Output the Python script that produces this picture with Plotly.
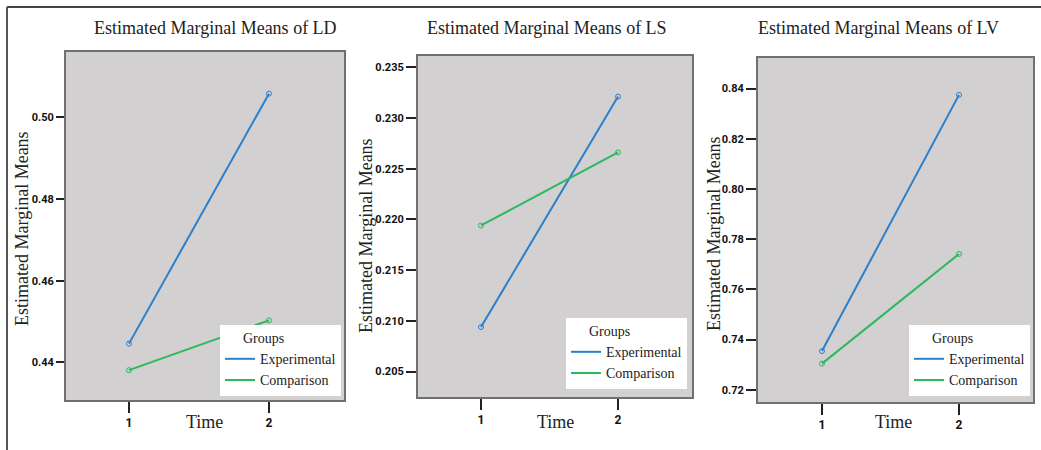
import plotly.graph_objects as go

# ---- data ----
time_points = [1, 2]
groups = ["Experimental", "Comparison"]

ld_experimental = [0.4446, 0.5058]
ld_comparison = [0.4381, 0.4503]

ls_experimental = [0.2094, 0.2321]
ls_comparison = [0.2194, 0.2266]

lv_experimental = [0.7354, 0.8375]
lv_comparison = [0.7304, 0.7741]

ld_ticks = [0.44, 0.46, 0.48, 0.50]
ls_ticks = [0.205, 0.210, 0.215, 0.220, 0.225, 0.230, 0.235]
lv_ticks = [0.72, 0.74, 0.76, 0.78, 0.80, 0.82, 0.84]

titles = ["Estimated Marginal Means of LD",
          "Estimated Marginal Means of LS",
          "Estimated Marginal Means of LV"]

# ---- styling ----
W, H = 1041, 450
BLUE = "#2b7fcc"
GREEN = "#2cb85c"
SERIF = "Liberation Serif, Times New Roman, serif"
NARROW = "Liberation Sans Narrow, Arial Narrow, Roboto, sans-serif"


def px(x):
    return x / W


def py(y):
    return 1 - y / H


panels = [
    dict(exp=ld_experimental, comp=ld_comparison, ticks=ld_ticks, fmt=".2f",
         xdom=[px(66), px(344)], ydom=[py(400), py(52)],
         xr=[0.55, 2.536], yr=[0.4308, 0.5160], ylen=8,
         title_x=215, time_x=204, ytitle_x=22, ytitle_y=229,
         leg_x=px(341), leg_y=py(396)),
    dict(exp=ls_experimental, comp=ls_comparison, ticks=ls_ticks, fmt=".3f",
         xdom=[px(418), px(692)], ydom=[py(397), py(56)],
         xr=[0.54, 2.54], yr=[0.2025, 0.2361], ylen=10,
         title_x=547, time_x=555, ytitle_x=366, ytitle_y=236,
         leg_x=px(687), leg_y=py(389)),
    dict(exp=lv_experimental, comp=lv_comparison, ticks=lv_ticks, fmt=".2f",
         xdom=[px(758), px(1033)], ydom=[py(402), py(58)],
         xr=[0.533, 2.54], yr=[0.7151, 0.8522], ylen=10,
         title_x=878, time_x=893, ytitle_x=714, ytitle_y=234,
         leg_x=px(1030), leg_y=py(396)),
]

fig = go.Figure()
annotations = []
layout_axes = {}

for i, p in enumerate(panels):
    n = "" if i == 0 else str(i + 1)
    xa, ya = "x" + n, "y" + n
    leg = "legend" + n
    for vals, name, color in [(p["exp"], groups[0], BLUE), (p["comp"], groups[1], GREEN)]:
        fig.add_trace(go.Scatter(
            x=time_points, y=vals, mode="lines", name=name,
            line=dict(color=color, width=2),
            xaxis=xa, yaxis=ya, legend=leg, showlegend=True))
        fig.add_trace(go.Scatter(
            x=time_points, y=vals, mode="markers", name=name,
            marker=dict(symbol="circle-open", size=5, color=color,
                        line=dict(width=1, color=color)),
            xaxis=xa, yaxis=ya, showlegend=False, hoverinfo="skip"))

    layout_axes["xaxis" + n] = dict(
        domain=p["xdom"], anchor=ya, range=p["xr"],
        tickvals=time_points, ticktext=[str(t) for t in time_points],
        ticks="outside", ticklen=11, tickwidth=2, tickcolor="#222",
        showline=True, mirror=True, linecolor="#707070", linewidth=2,
        showgrid=False, zeroline=False,
        tickfont=dict(family=NARROW, size=12, color="#111", weight="bold"))
    layout_axes["yaxis" + n] = dict(
        domain=p["ydom"], anchor=xa, range=p["yr"],
        tickvals=p["ticks"], tickformat=p["fmt"],
        ticks="outside", ticklen=p["ylen"], tickwidth=2, tickcolor="#222",
        showline=True, mirror=True, linecolor="#707070", linewidth=2,
        showgrid=False, zeroline=False,
        tickfont=dict(family=NARROW, size=11, color="#111", weight="bold"))
    layout_axes[leg] = dict(
        x=p["leg_x"], y=p["leg_y"], xanchor="right", yanchor="bottom",
        bgcolor="white", borderwidth=0,
        font=dict(family=SERIF, size=14, color="#222"),
        title=dict(text="\u00a0" * 6 + "Groups", side="top",
                   font=dict(family=SERIF, size=14, color="#222")),
        tracegroupgap=0, itemwidth=30)

    annotations.append(dict(text=titles[i], x=px(p["title_x"]), y=py(28),
                            xref="paper", yref="paper", showarrow=False,
                            xanchor="center", yanchor="middle",
                            font=dict(family=SERIF, size=18, color="#222")))
    annotations.append(dict(text="Time", x=px(p["time_x"]), y=py(422),
                            xref="paper", yref="paper", showarrow=False,
                            xanchor="center", yanchor="middle",
                            font=dict(family=SERIF, size=18, color="#222")))
    annotations.append(dict(text="Estimated Marginal Means", x=px(p["ytitle_x"]),
                            y=py(p["ytitle_y"]), xref="paper", yref="paper",
                            showarrow=False, textangle=-90,
                            xanchor="center", yanchor="middle",
                            font=dict(family=SERIF, size=18, color="#222")))

# outer frame (top and left edges)
shapes = [
    dict(type="line", xref="paper", yref="paper", x0=px(7), x1=1, y0=py(7), y1=py(7),
         line=dict(color="#444", width=2)),
    dict(type="line", xref="paper", yref="paper", x0=px(7), x1=px(7), y0=py(7), y1=0,
         line=dict(color="#555", width=2)),
]

fig.update_layout(
    width=W, height=H,
    margin=dict(l=0, r=0, t=0, b=0),
    paper_bgcolor="white",
    plot_bgcolor="#d2d0d1",
    annotations=annotations,
    shapes=shapes,
    **layout_axes,
)

fig.write_html("out.html",
               config={"displayModeBar": False},
               post_script="document.body.style.margin='0';document.body.style.overflow='hidden';")
